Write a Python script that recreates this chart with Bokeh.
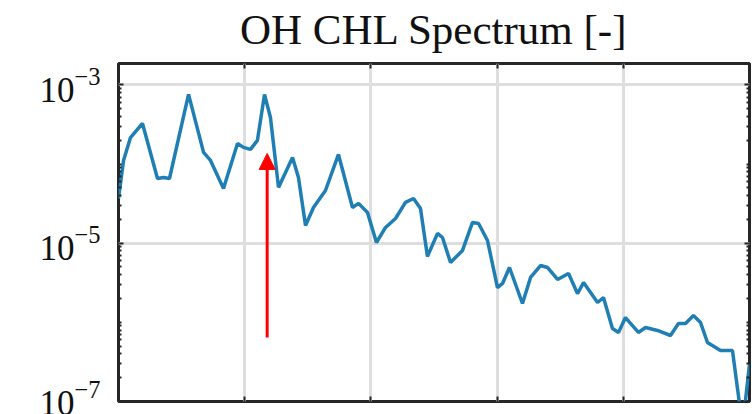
from bokeh.plotting import figure
from bokeh.layouts import column, row
from bokeh.models import (LinearAxis, LogAxis, FixedTicker, Range1d, Arrow,
                          NormalHead, LogTickFormatter)
from bokeh.core.properties import value
from bokeh.embed import file_html
from bokeh.resources import INLINE

# Spectrum samples (frequency axis in arbitrary units, amplitude on log scale)
freq = [0.000, 0.040, 0.095, 0.190, 0.309, 0.357, 0.404, 0.555, 0.674, 0.729,
        0.832, 0.943, 0.990, 1.046, 1.101, 1.157, 1.204, 1.268, 1.379, 1.426,
        1.482, 1.545, 1.640, 1.743, 1.854, 1.902, 1.973, 2.044, 2.116, 2.195,
        2.274, 2.338, 2.393, 2.448, 2.528, 2.567, 2.631, 2.726, 2.805, 2.853,
        2.924, 3.003, 3.043, 3.098, 3.201, 3.265, 3.344, 3.399, 3.479, 3.566,
        3.637, 3.685, 3.796, 3.843, 3.914, 3.962, 4.017, 4.120, 4.176, 4.271,
        4.374, 4.437, 4.493, 4.556, 4.612, 4.667, 4.770, 4.865, 4.945, 5.000]
amplitude = [3.67e-5, 1.11e-4, 2.16e-4, 3.25e-4, 6.56e-5, 6.76e-5, 6.56e-5, 7.57e-4, 1.40e-4, 1.11e-4,
             4.91e-5, 1.82e-4, 1.62e-4, 1.53e-4, 1.99e-4, 7.57e-4, 3.87e-4, 5.06e-5, 1.21e-4, 6.76e-5,
             1.67e-5, 2.82e-5, 4.63e-5, 1.32e-4, 2.82e-5, 3.18e-5, 2.44e-5, 1.02e-5, 1.58e-5, 2.05e-5,
             3.27e-5, 3.67e-5, 2.74e-5, 6.79e-6, 1.33e-5, 1.18e-5, 5.70e-6, 8.09e-6, 1.83e-5, 1.77e-5,
             1.08e-5, 2.75e-6, 3.10e-6, 4.93e-6, 1.73e-6, 3.69e-6, 5.22e-6, 4.93e-6, 3.48e-6, 4.14e-6,
             2.31e-6, 3.18e-6, 1.78e-6, 2.06e-6, 8.36e-7, 7.45e-7, 1.15e-6, 7.45e-7, 8.61e-7, 7.89e-7,
             6.82e-7, 9.66e-7, 9.66e-7, 1.22e-6, 9.95e-7, 5.56e-7, 4.41e-7, 4.41e-7, 4.8e-8, 2.95e-7]

x_ticks = [1, 2, 3, 4]
y_ticks = [1e-7, 1e-5, 1e-3]
y_minor = [m * 10.0 ** e for e in range(-7, -2) for m in range(1, 10)
           if m * 10.0 ** e not in y_ticks]

x_lo, x_hi = 0, 5
y_lo, y_hi = 1e-7, 1.86e-3

# Marker arrow pointing at the dominant peak
arrow_x = 1.178
arrow_tail = 6.44e-7
arrow_tip = 1.36e-4

title_text = "OH CHL Spectrum [-]"

DARK = "#262626"
TEXT = "#111111"
SERIF = "Liberation Serif"

# Layout sizes (pixels)
W, H = 755, 414
TITLE_H = 56
PAD_L, PAD_R, PAD_T, PAD_B = 118, 6, 7, 13
BODY_H = H - TITLE_H


def bare(fig):
    fig.background_fill_color = "white"
    fig.border_fill_color = "white"
    fig.outline_line_color = None
    fig.grid.visible = False
    return fig


# ---- main plot -------------------------------------------------------------
p = figure(width=W, height=BODY_H, y_axis_type="log", title=None,
           x_range=Range1d(x_lo, x_hi), y_range=Range1d(y_lo, y_hi),
           output_backend="svg", toolbar_location=None,
           x_axis_location=None, y_axis_location=None,
           min_border_left=PAD_L, min_border_right=PAD_R,
           min_border_top=PAD_T, min_border_bottom=PAD_B)
p.background_fill_color = "white"
p.border_fill_color = "white"
p.outline_line_color = DARK
p.outline_line_width = 3

y_ticker = FixedTicker(ticks=y_ticks, minor_ticks=y_minor)
x_ticker = FixedTicker(ticks=x_ticks)


def style_axis(ax, labels=False):
    ax.axis_line_color = None
    ax.major_tick_in = 5
    ax.major_tick_out = 0
    ax.minor_tick_in = 3
    ax.minor_tick_out = 0
    ax.major_tick_line_color = DARK
    ax.minor_tick_line_color = DARK
    ax.major_tick_line_width = 2
    ax.minor_tick_line_width = 2
    if labels:
        ax.major_label_text_font = SERIF
        ax.major_label_text_font_size = "35px"
        ax.major_label_text_color = TEXT
        ax.major_label_standoff = 18
    else:
        ax.major_label_text_font_size = "0px"
        ax.major_label_text_color = None
        ax.major_label_standoff = 0


# Left axis carries the decade labels (10 with a raised exponent)
left = LogAxis(ticker=y_ticker, formatter=LogTickFormatter())
style_axis(left, labels=True)
p.add_layout(left, "left")

for side, ax in (("right", LogAxis(ticker=y_ticker)),
                 ("below", LinearAxis(ticker=x_ticker)),
                 ("above", LinearAxis(ticker=x_ticker))):
    style_axis(ax)
    p.add_layout(ax, side)

p.xgrid.ticker = x_ticker
p.ygrid.ticker = y_ticker
for g in (p.xgrid, p.ygrid):
    g.grid_line_color = "#dedede"
    g.grid_line_width = 3

p.line(freq, amplitude, line_color="#1f7fb4", line_width=3.5)

p.add_layout(Arrow(end=NormalHead(size=16, fill_color="red", line_color="red"),
                   x_start=arrow_x, y_start=arrow_tail,
                   x_end=arrow_x, y_end=arrow_tip,
                   line_color="red", line_width=3))

# ---- title strip -------------------------------------------------------------
frame_center = PAD_L + (W - PAD_L - PAD_R) / 2
ttl = bare(figure(width=W, height=TITLE_H, title=None,
                  x_range=Range1d(0, W), y_range=Range1d(0, TITLE_H),
                  output_backend="svg", toolbar_location=None,
                  x_axis_location=None, y_axis_location=None,
                  min_border_left=0, min_border_right=0,
                  min_border_top=0, min_border_bottom=0))
ttl.text(x=[frame_center], y=[TITLE_H - 28.5], text=[title_text],
         text_align="center", text_baseline="middle",
         text_font=value(SERIF), text_font_size="43px", text_color=TEXT)

layout = column(ttl, row(p, spacing=0), spacing=0)

open("out.html", "w").write(file_html(layout, INLINE))
